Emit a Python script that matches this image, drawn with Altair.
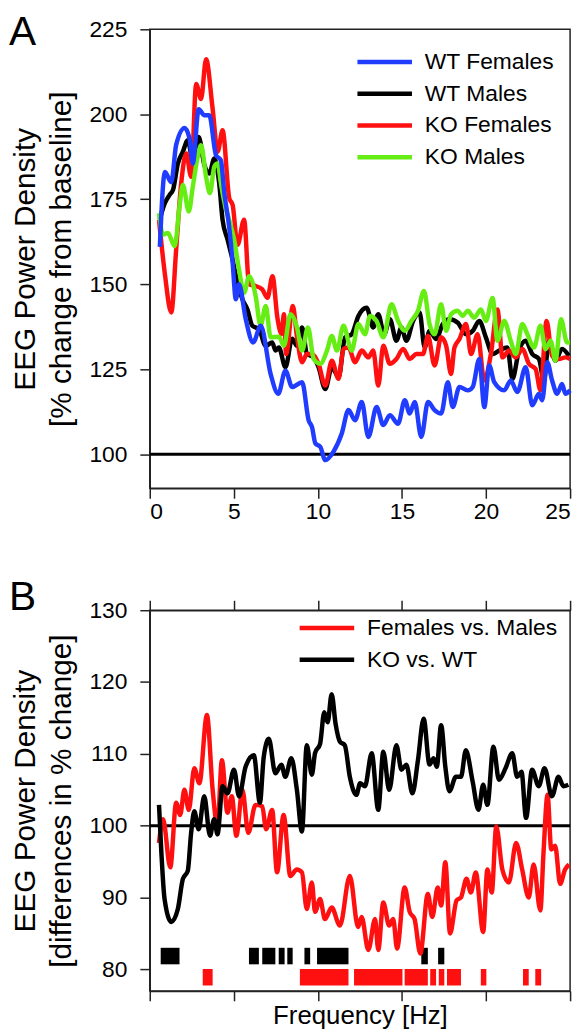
import altair as alt
import pandas as pd

FONT = "Liberation Sans"

# ---------------- Panel A: EEG power density, % change from baseline ----------------
wtf_freq = [0.6, 0.9, 1.28, 1.57, 2.07, 2.36, 2.56, 2.91, 3.25, 3.54, 3.94, 4.23, 4.43, 4.72, 4.92,
            5.12, 5.31, 5.71, 6.15, 6.6, 7.19, 7.64, 8.07, 8.47, 9.06, 9.45, 9.65, 9.85, 10.14, 10.44,
            10.93, 11.42, 11.82, 12.21, 12.61, 13.0, 13.49, 13.89, 14.28, 14.77, 15.17, 15.46, 15.76,
            16.15, 16.55, 16.94, 17.33, 17.73, 18.02, 18.42, 18.91, 19.21, 19.6, 19.9, 20.19, 20.49,
            21.08, 21.47, 21.86, 22.36, 22.75, 23.15, 23.34, 23.64, 23.93, 24.23, 24.52, 24.72, 25.0]
wtf_val = [161, 183, 180, 191, 196, 193, 185.5, 201.5, 199.7, 199.7, 188, 186.5, 177, 167, 157,
           145.6, 150, 139.7, 132.9, 137.8, 123.6, 117.8, 124.6, 119.8, 121.2, 110, 108, 103.2, 102.2, 98.3,
           100.8, 106.1, 113, 110, 115.4, 105.1, 113.9, 108.6, 111.5, 109, 115.9, 112, 115.4,
           105.1, 115.4, 113, 112, 121.2, 113.9, 119.8, 118.8, 119.8, 128, 113.9, 126.1, 121.2,
           118.8, 121.7, 118.3, 125.6, 114.4, 117.8, 115.9, 127.1, 121.7, 117.8, 120.7, 117.8, 118.8]

wtm_freq = [0.59, 0.89, 1.18, 1.38, 1.67, 1.97, 2.26, 2.56, 2.91, 3.25, 3.54, 3.84, 4.13, 4.33, 4.63,
            4.92, 5.22, 5.51, 5.81, 6.1, 6.5, 6.89, 7.28, 7.49, 7.68, 8.07, 8.47, 8.76, 9.06, 9.35,
            9.75, 10.04, 10.44, 10.83, 11.23, 11.62, 12.01, 12.41, 12.9, 13.29, 13.59, 13.94, 14.28,
            14.67, 14.97, 15.26, 15.66, 16.05, 16.35, 16.64, 17.04, 17.43, 17.83, 18.32, 18.81, 19.21,
            19.6, 19.99, 20.39, 20.78, 21.27, 21.57, 21.96, 22.36, 22.75, 23.15, 23.44, 23.74, 24.13,
            24.52, 24.92]
wtm_val = [169, 173.8, 176.3, 177.7, 185.5, 189, 192.4, 186.5, 193.3, 185, 182.6, 187, 179.7, 169, 163.1,
           157.3, 150.4, 145.6, 142.6, 137.8, 136.8, 131.9, 132.9, 130.5, 131.4, 125.6, 134, 131.9, 137.3, 129.5,
           128.5, 125.6, 119.2, 125.6, 122.7, 134.4, 135.3, 140.7, 143.1, 137.3, 141.2, 135.3, 139.7,
           133.4, 137.3, 133.4, 139.2, 141.7, 131.4, 136.3, 133.9, 138.3, 139.7, 138.7, 135.3, 136.3,
           139.2, 134.4, 129.5, 130.5, 131.4, 122.2, 130.5, 133.4, 129.5, 128, 121.7, 133.4, 127.5,
           131, 129]

kof_freq = [0.55, 0.89, 1.28, 1.57, 1.87, 2.17, 2.46, 2.76, 3.05, 3.35, 3.74, 4.04, 4.33, 4.73, 4.93,
            5.22, 5.61, 5.91, 6.3, 6.69, 7.0, 7.3, 7.59, 7.84, 7.98, 8.11, 8.51, 8.76, 9.06, 9.35,
            9.65, 10.04, 10.44, 10.83, 11.23, 11.52, 11.82, 12.21, 12.61, 13.0, 13.29, 13.59, 13.89,
            14.28, 14.67, 15.07, 15.46, 15.86, 16.25, 16.55, 16.94, 17.33, 17.63, 17.92, 18.12, 18.42,
            18.81, 19.11, 19.5, 19.9, 20.29, 20.68, 20.98, 21.37, 21.77, 22.16, 22.55, 22.95, 23.24,
            23.6, 23.93, 24.33, 24.72, 25.0]
kof_val = [169, 153.4, 141.7, 160.2, 179.7, 188.5, 181.6, 208.9, 204.5, 216.2, 201.6, 189, 195.3, 175.3, 173.3,
           161.6, 169, 150, 149.5, 148.5, 146, 152.4, 140.2, 135.4, 141.2, 129.5, 143.6, 134.4, 127.1, 129.5,
           129.5, 126.6, 120.2, 127.5, 122.2, 131, 131.4, 127.1, 130.5, 128.5, 130.5, 120.2, 131.9,
           126.6, 128, 131, 128, 129.5, 129.5, 134.8, 126.1, 134.4, 131.9, 123.6, 131.4, 133.9,
           138.3, 129.5, 135.3, 121.7, 129.5, 142.6, 128.5, 130.5, 128.5, 131, 126.6, 125.1, 118.8,
           139.2, 129, 128, 128.5, 128]

kom_freq = [0.55, 0.79, 1.08, 1.48, 1.77, 1.97, 2.32, 2.56, 2.85, 3.05, 3.35, 3.58, 3.84, 4.04, 4.23,
            4.49, 4.72, 5.02, 5.31, 5.61, 5.91, 6.3, 6.59, 6.9, 7.19, 7.68, 7.98, 8.37, 8.76, 9.06,
            9.41, 9.75, 10.14, 10.54, 10.83, 11.13, 11.52, 12.01, 12.41, 12.8, 13.1, 13.49, 13.89,
            14.38, 14.77, 15.17, 15.56, 15.95, 16.31, 16.64, 16.94, 17.33, 17.63, 17.92, 18.32, 18.61,
            18.91, 19.3, 19.7, 19.99, 20.39, 20.68, 21.08, 21.47, 21.77, 22.16, 22.46, 22.85, 23.24,
            23.54, 23.84, 24.13, 24.46, 24.82, 25.0]
kom_val = [170.9, 164.6, 165.1, 161.2, 172.9, 179.2, 171.4, 178.7, 187.5, 190.9, 181.6, 176.8, 184.6, 185.5, 179.7,
           172.9, 169, 163.1, 154.3, 147.5, 152.4, 146.5, 137.8, 143.6, 134.4, 134.6, 131.9, 141.2, 137.3, 130.5,
           137.3, 128, 126.6, 130.5, 134.8, 130.5, 137.8, 130.5, 138.3, 135.3, 140.7, 139.2, 134.4,
           144.1, 139.2, 136.3, 139.2, 142.2, 148, 138.3, 135.3, 144.1, 136.3, 141.2, 142.2, 140.7,
           142.2, 140.2, 142.6, 139.2, 146, 133.4, 139.2, 133.4, 129.5, 138.3, 135.3, 131.4, 137.8,
           130.9, 133.4, 127.5, 139.7, 132.9, 132.9]

series_a = ["WT Females", "WT Males", "KO Females", "KO Males"]
colors_a = ["#1f3cff", "#000000", "#ff1010", "#66ee14"]
x_ticks = [0, 5, 10, 15, 20, 25]
y_ticks_a = [100, 125, 150, 175, 200, 225]
baseline = [100]
panel_letters = ["A", "B"]

# ---------------- Panel B: differences in % change ----------------
kovwt_freq = [0.55, 0.69, 0.88, 1.28, 1.67, 1.97, 2.26, 2.46, 2.65, 2.91, 3.24, 3.58, 3.83, 4.03, 4.33,
              4.62, 5.01, 5.31, 5.7, 6.19, 6.55, 6.78, 7.08, 7.47, 7.83, 8.06, 8.42, 8.75, 9.05, 9.34,
              9.64, 9.83, 10.13, 10.38, 10.58, 10.82, 11.05, 11.31, 11.6, 11.9, 12.29, 12.51, 12.8,
              13.2, 13.59, 13.89, 14.24, 14.67, 14.97, 15.26, 15.62, 15.95, 16.29, 16.64, 16.88, 17.07,
              17.33, 17.58, 17.82, 18.21, 18.51, 18.8, 19.2, 19.55, 19.83, 20.08, 20.44, 20.77, 21.16,
              21.56, 21.85, 22.11, 22.38, 22.74, 23.13, 23.48, 23.92, 24.31, 24.6, 24.9]
kovwt_val = [102.9, 96.3, 89.8, 86.6, 88.4, 92.6, 93.7, 99, 102, 99.5, 104.1, 98.6, 100.9, 98.8, 105.5,
             104.5, 107.8, 104.1, 108.2, 109.8, 103.2, 109.6, 112.1, 107.3, 108.5, 106.8, 109.4, 105, 99.2, 111.2,
             107.1, 110.1, 111.4, 115.8, 114.4, 118.3, 114.2, 111.7, 111.2, 106.8, 104.3, 105.9, 105.5,
             110.1, 102.2, 110.3, 105, 111.2, 107.8, 108.5, 104.5, 109.1, 114.9, 108.5, 109.4, 108.2,
             114, 108.2, 104.8, 106.8, 106.8, 110.5, 106.2, 102.2, 105.7, 102.9, 111, 106.4, 108,
             110.1, 106.8, 107.5, 101.1, 107.8, 105.5, 108, 104.1, 106.8, 105.5, 105.7]

fvm_freq = [0.55, 0.79, 1.22, 1.57, 1.81, 2.06, 2.32, 2.65, 2.95, 3.4, 3.74, 4.03, 4.29, 4.62, 4.88,
            5.15, 5.51, 5.86, 6.29, 6.69, 6.92, 7.28, 7.57, 7.96, 8.36, 8.75, 9.05, 9.34, 9.64, 9.83,
            10.13, 10.42, 10.82, 11.31, 11.9, 12.39, 12.6, 13.0, 13.4, 13.59, 13.89, 14.24, 14.48,
            14.71, 15.16, 15.46, 15.75, 16.09, 16.54, 16.8, 17.13, 17.33, 17.58, 17.86, 18.25, 18.51,
            18.84, 19.1, 19.39, 19.83, 20.08, 20.34, 20.61, 20.97, 21.36, 21.79, 22.15, 22.54, 22.83,
            23.23, 23.42, 23.66, 23.88, 24.11, 24.41, 24.7, 24.94]
fvm_val = [97.6, 100.9, 94.2, 103.2, 101.5, 105, 102.2, 108, 105.9, 115.4, 105, 99.9, 109.1, 101.8, 104.1,
           98.6, 105, 99, 102.9, 102.7, 99.5, 102.2, 93.5, 101.5, 93, 93.9, 93.5, 88.4, 92.1, 88,
           89.8, 87, 88.6, 86.1, 93, 85.9, 87.3, 82.7, 87, 82.7, 89.3, 86.1, 87,
           82.9, 91.4, 88, 87, 82.2, 90.5, 87.3, 91.4, 88.9, 94.9, 85, 89.6, 90,
           92.6, 90.7, 93.5, 85.2, 93.9, 90.7, 99.9, 93.9, 92.1, 97.6, 93.9, 90, 94.6,
           88.2, 96.3, 104.3, 96.7, 97.2, 91.9, 93.9, 94.6]

# significance markers (frequency ranges)
sig_ko_start = [0.65, 5.9, 6.69, 7.67, 8.18, 9.2, 9.95, 16.15, 17.15]
sig_ko_end = [1.77, 6.49, 7.47, 8.02, 8.5, 9.54, 11.82, 16.54, 17.52]
sig_sex_start = [3.15, 8.93, 12.15, 15.16, 16.68, 17.19, 17.68, 19.69, 22.2, 22.93]
sig_sex_end = [3.74, 11.82, 15.03, 16.54, 17.03, 17.52, 18.51, 20.02, 22.54, 23.28]
sig_ko_row = (80.7, 83.0)
sig_sex_row = (77.75, 80.05)

series_b = ["Females vs. Males", "KO vs. WT"]
colors_b = ["#ff1010", "#000000"]
y_ticks_b = [80, 90, 100, 110, 120, 130]


def frame(freqs, vals, name, key):
    return pd.DataFrame({"freq": freqs, "value": vals, key: name})


df_a = pd.concat([
    frame(wtm_freq, wtm_val, "WT Males", "series"),
    frame(kof_freq, kof_val, "KO Females", "series"),
    frame(kom_freq, kom_val, "KO Males", "series"),
    frame(wtf_freq, wtf_val, "WT Females", "series"),
], ignore_index=True)

df_b = pd.concat([
    frame(fvm_freq, fvm_val, "Females vs. Males", "comp"),
    frame(kovwt_freq, kovwt_val, "KO vs. WT", "comp"),
], ignore_index=True)

df_sig = pd.concat([
    pd.DataFrame({"freq": sig_ko_start, "freq_end": sig_ko_end,
                  "value": sig_ko_row[0], "value_end": sig_ko_row[1], "comp": "KO vs. WT"}),
    pd.DataFrame({"freq": sig_sex_start, "freq_end": sig_sex_end,
                  "value": sig_sex_row[0], "value_end": sig_sex_row[1], "comp": "Females vs. Males"}),
], ignore_index=True)

df_base = pd.DataFrame({"value": baseline})

x_scale = alt.Scale(domain=[0, 25], nice=False, zero=False)
LINE_W = 4.5
LEGEND_LINE = "M-2.5,0H2.5"   # long horizontal stroke legend symbol


def letter(text, dy):
    return alt.Chart(pd.DataFrame({"label": [text]})).mark_text(
        fontSize=41, font=FONT, align="left", baseline="top", color="black"
    ).encode(text="label:N", x=alt.value(-142), y=alt.value(dy))


def legend(x, y):
    return alt.Legend(title=None, orient="none", legendX=x, legendY=y, symbolType=LEGEND_LINE,
                      symbolSize=484, symbolStrokeWidth=4.5, labelFontSize=23, labelOffset=27,
                      rowPadding=6, padding=0, labelLimit=400)


# ---------- Panel A ----------
xa = alt.X("freq:Q", scale=x_scale,
           axis=alt.Axis(values=x_ticks, tickSize=10, labelPadding=2, title=None, labelFontSize=23))
ya = alt.Y("value:Q", scale=alt.Scale(domain=[90, 225], nice=False, zero=False),
           axis=alt.Axis(values=y_ticks_a, tickSize=10, labelPadding=13, labelFontSize=23,
                         title=["EEG Power Density", "[% change from baseline]"],
                         titleFontSize=30, titleFontWeight="normal", titlePadding=13,
                         titleLineHeight=36))

base_a = alt.Chart(df_base).mark_rule(color="black", strokeWidth=3).encode(y=ya)
lines_a = alt.Chart(df_a).mark_line(strokeWidth=LINE_W, interpolate="monotone").encode(
    x=xa, y=ya,
    color=alt.Color("series:N", scale=alt.Scale(domain=series_a, range=colors_a),
                    legend=legend(223.5, 19.5)),
)
panel_a = alt.layer(base_a, lines_a, letter(panel_letters[0], -16)).properties(width=424, height=463)

# ---------- Panel B ----------
yb = alt.Y("value:Q", scale=alt.Scale(domain=[77, 130], nice=False, zero=False),
           axis=alt.Axis(values=y_ticks_b, tickSize=10, labelPadding=13, labelFontSize=23,
                         title=["EEG Power Density", "[differences in % change]"],
                         titleFontSize=30, titleFontWeight="normal", titlePadding=13,
                         titleLineHeight=36))
xb_bottom = alt.X("freq:Q", scale=x_scale,
                  axis=alt.Axis(values=x_ticks, tickSize=10, labels=False, title="Frequency [Hz]",
                                titleFontSize=26, titleFontWeight="normal", titlePadding=1))
xb_top = alt.X("freq:Q", scale=x_scale,
               axis=alt.Axis(values=x_ticks, tickSize=10, labels=False, title=None, orient="top"))
color_b = alt.Color("comp:N", scale=alt.Scale(domain=series_b, range=colors_b),
                    legend=legend(165.2, 4.5))

base_b = alt.Chart(df_base).mark_rule(color="black", strokeWidth=3).encode(y=yb)
lines_b = alt.Chart(df_b).mark_line(strokeWidth=LINE_W, interpolate="monotone").encode(
    x=xb_bottom, y=yb, color=color_b)
sig_b = alt.Chart(df_sig).mark_rect().encode(
    x=xb_top, x2="freq_end:Q", y=yb, y2="value_end:Q", color=color_b)

panel_b = alt.layer(base_b, sig_b, lines_b, letter(panel_letters[1], -32)).resolve_axis(
    x="independent").properties(width=424, height=384)

chart = alt.vconcat(panel_a, panel_b, spacing=53).resolve_scale(color="independent").properties(
    padding={"left": 0, "top": -1, "right": 0, "bottom": 0}
).configure_view(stroke="#222", strokeWidth=1.5).configure_axis(
    domainColor="#222", tickColor="#222", domainWidth=1.5, tickWidth=1.5,
    labelColor="#000", titleColor="#000", labelFont=FONT, titleFont=FONT, grid=False,
).configure_legend(labelFont=FONT, labelColor="#000")

chart.save("out.html", embed_options={"renderer": "svg", "actions": False})
